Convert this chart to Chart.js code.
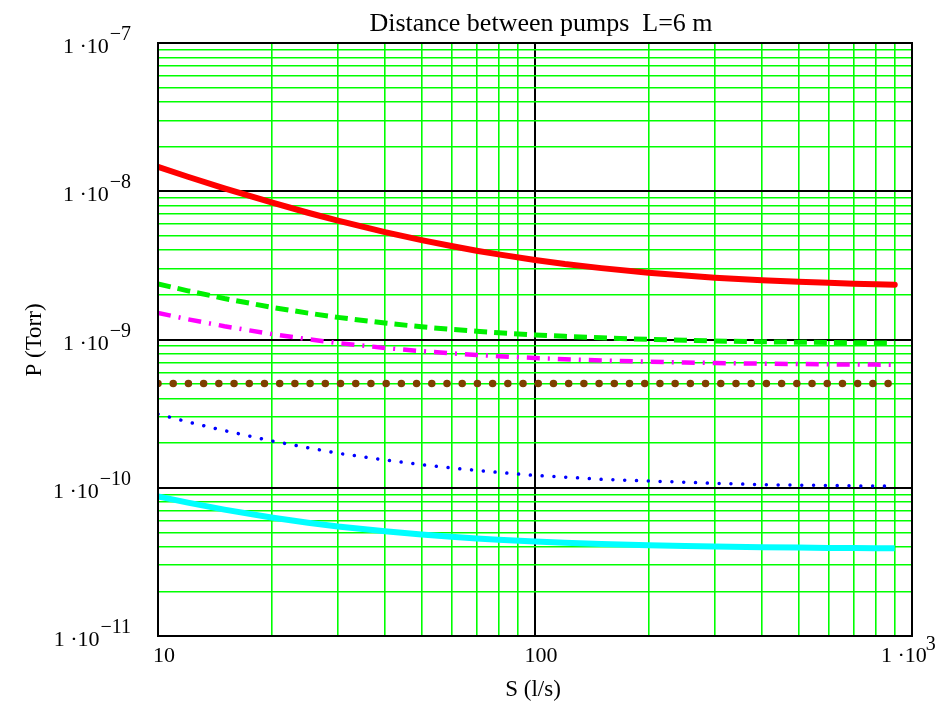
<!DOCTYPE html>
<html>
<head>
<meta charset="utf-8">
<script src="https://cdn.jsdelivr.net/npm/chart.js@4/dist/chart.umd.min.js"></script>
<style>
  html, body { margin: 0; padding: 0; background: #ffffff; }
  #wrap { width: 949px; height: 703px; }
</style>
</head>
<body>
<div id="wrap"><canvas id="c" width="949" height="703"></canvas></div>
<script>
// Pumping speed S (l/s)
const S = [10, 12, 15, 20, 25, 30, 40, 50, 60, 70, 80, 100, 120, 150, 200, 250, 300, 400, 500, 600, 700, 800, 900];

// Pressure P (Torr) for each curve
const pRed = [1.46e-8, 1.253e-8, 1.047e-8, 8.4e-9, 7.16e-9, 6.33e-9, 5.3e-9, 4.68e-9, 4.27e-9, 3.97e-9, 3.75e-9, 3.44e-9, 3.23e-9, 3.03e-9, 2.82e-9, 2.70e-9, 2.61e-9, 2.51e-9, 2.45e-9, 2.41e-9, 2.38e-9, 2.36e-9, 2.34e-9];
const pGreen = [2.37e-9, 2.13e-9, 1.89e-9, 1.65e-9, 1.506e-9, 1.41e-9, 1.29e-9, 1.218e-9, 1.17e-9, 1.136e-9, 1.11e-9, 1.074e-9, 1.05e-9, 1.026e-9, 1.002e-9, 9.88e-10, 9.78e-10, 9.66e-10, 9.59e-10, 9.54e-10, 9.51e-10, 9.48e-10, 9.46e-10];
const pMagenta = [1.51e-9, 1.369e-9, 1.229e-9, 1.088e-9, 1.004e-9, 9.47e-10, 8.77e-10, 8.35e-10, 8.07e-10, 7.87e-10, 7.72e-10, 7.50e-10, 7.36e-10, 7.22e-10, 7.08e-10, 7.00e-10, 6.94e-10, 6.87e-10, 6.83e-10, 6.80e-10, 6.78e-10, 6.77e-10, 6.75e-10];
const pBrown = [5.05e-10, 5.05e-10, 5.05e-10, 5.05e-10, 5.05e-10, 5.05e-10, 5.05e-10, 5.05e-10, 5.05e-10, 5.05e-10, 5.05e-10, 5.05e-10, 5.05e-10, 5.05e-10, 5.05e-10, 5.05e-10, 5.05e-10, 5.05e-10, 5.05e-10, 5.05e-10, 5.05e-10, 5.05e-10, 5.05e-10];
const pBlue = [3.14e-10, 2.78e-10, 2.43e-10, 2.07e-10, 1.86e-10, 1.71e-10, 1.54e-10, 1.43e-10, 1.36e-10, 1.31e-10, 1.27e-10, 1.21e-10, 1.18e-10, 1.14e-10, 1.11e-10, 1.09e-10, 1.07e-10, 1.05e-10, 1.04e-10, 1.036e-10, 1.03e-10, 1.027e-10, 1.024e-10];
const pCyan = [8.75e-11, 7.93e-11, 7.12e-11, 6.30e-11, 5.81e-11, 5.48e-11, 5.08e-11, 4.83e-11, 4.67e-11, 4.55e-11, 4.46e-11, 4.34e-11, 4.26e-11, 4.18e-11, 4.10e-11, 4.05e-11, 4.01e-11, 3.97e-11, 3.95e-11, 3.93e-11, 3.92e-11, 3.91e-11, 3.90e-11];

// Grid positions
const xGrid = [10, 20, 30, 40, 50, 60, 70, 80, 90, 100, 200, 300, 400, 500, 600, 700, 800, 900, 1000];
const yGrid = [1e-11, 2e-11, 3e-11, 4e-11, 5e-11, 6e-11, 7e-11, 8e-11, 9e-11,
               1e-10, 2e-10, 3e-10, 4e-10, 5e-10, 6e-10, 7e-10, 8e-10, 9e-10,
               1e-9, 2e-9, 3e-9, 4e-9, 5e-9, 6e-9, 7e-9, 8e-9, 9e-9,
               1e-8, 2e-8, 3e-8, 4e-8, 5e-8, 6e-8, 7e-8, 8e-8, 9e-8, 1e-7];

// Tick labels: [value, base text, superscript]
const xLabels = [[10, '10', ''], [100, '100', ''], [1000, '1 \u00b710', '3']];
const yLabels = [[1e-7, '1 \u00b710', '\u22127'], [1e-8, '1 \u00b710', '\u22128'], [1e-9, '1 \u00b710', '\u22129'],
                 [1e-10, '1 \u00b710', '\u221210'], [1e-11, '1 \u00b710', '\u221211']];

const titleText = 'Distance between pumps  L=6 m';
const xTitle = 'S (l/s)';
const yTitle = 'P (Torr)';

const pts = arr => S.map((s, i) => ({ x: s, y: arr[i] }));
const isDecade = v => Math.abs(Math.log10(v) - Math.round(Math.log10(v))) < 1e-6;
const SERIF = '"Liberation Serif", "DejaVu Serif", serif';

const textPlugin = {
  id: 'textPlugin',
  afterDraw(chart) {
    const ctx = chart.ctx;
    const xs = chart.scales.x, ys = chart.scales.y;
    const a = chart.chartArea;
    ctx.save();
    // frame round the plot area
    ctx.strokeStyle = '#000';
    ctx.lineWidth = 2;
    ctx.strokeRect(a.left, a.top, a.right - a.left, a.bottom - a.top);

    ctx.fillStyle = '#000';
    ctx.textBaseline = 'alphabetic';

    // y tick labels, right-aligned
    yLabels.forEach(([v, base, sup]) => {
      const py = ys.getPixelForValue(v);
      const right = 131;
      ctx.font = '20px ' + SERIF;
      ctx.textAlign = 'right';
      const sw = ctx.measureText(sup).width;
      ctx.fillText(sup, right, py - 3);
      ctx.font = '22px ' + SERIF;
      ctx.fillText(base, right - sw - 1, py + 10);
    });

    // x tick labels
    xLabels.forEach(([v, base, sup]) => {
      const px = xs.getPixelForValue(v);
      ctx.font = '22px ' + SERIF;
      if (!sup) {
        ctx.textAlign = 'center';
        ctx.fillText(base, px + 6, 662);
      } else {
        ctx.textAlign = 'left';
        const left = px - 31;
        ctx.fillText(base, left, 662);
        const bw = ctx.measureText(base).width;
        ctx.font = '20px ' + SERIF;
        ctx.fillText(sup, left + bw - 1, 650);
      }
    });

    // title
    ctx.font = '26px ' + SERIF;
    ctx.textAlign = 'center';
    ctx.fillText(titleText, 541, 31);

    // axis titles
    ctx.font = '23px ' + SERIF;
    ctx.fillText(xTitle, 533, 696);
    ctx.save();
    ctx.translate(41, 340);
    ctx.rotate(-Math.PI / 2);
    ctx.textAlign = 'center';
    ctx.fillText(yTitle, 0, 0);
    ctx.restore();

    ctx.restore();
  }
};

const gridColor = c => isDecade(c.tick.value) ? '#000000' : '#00ff00';
const gridWidth = c => isDecade(c.tick.value) ? 2 : 1.6;

new Chart(document.getElementById('c'), {
  type: 'line',
  data: {
    datasets: [
      { data: pts(pRed), borderColor: '#ff0000', borderWidth: 6, pointRadius: 0, borderCapStyle: 'round' },
      { data: pts(pGreen), borderColor: '#00f000', borderWidth: 5, pointRadius: 0, borderDash: [13, 7] },
      { data: pts(pMagenta), borderColor: '#ff00ff', borderWidth: 4.5, pointRadius: 0, borderDash: [13, 8, 2, 8] },
      { data: pts(pBrown), borderColor: '#7f3f00', borderWidth: 7.5, pointRadius: 0, borderDash: [0.01, 15.2], borderCapStyle: 'round' },
      { data: pts(pBlue), borderColor: '#0000ff', borderWidth: 3.5, pointRadius: 0, borderDash: [0.01, 11.8], borderCapStyle: 'round' },
      { data: pts(pCyan), borderColor: '#00ffff', borderWidth: 6, pointRadius: 0 }
    ]
  },
  options: {
    responsive: false,
    animation: false,
    events: [],
    layout: { padding: { left: 0, top: 43, right: 37, bottom: 0 } },
    plugins: { legend: { display: false }, tooltip: { enabled: false }, title: { display: false } },
    elements: { line: { tension: 0 } },
    scales: {
      x: {
        type: 'logarithmic', min: 10, max: 1000,
        ticks: { display: false },
        afterBuildTicks: s => { s.ticks = xGrid.map(v => ({ value: v })); },
        afterFit: s => { s.height = 703 - 636; },
        grid: { color: gridColor, lineWidth: gridWidth, drawTicks: false },
        border: { display: true, color: '#000', width: 2 }
      },
      y: {
        type: 'logarithmic', min: 1e-11, max: 1e-7,
        ticks: { display: false },
        afterBuildTicks: s => { s.ticks = yGrid.map(v => ({ value: v })); },
        afterFit: s => { s.width = 158; },
        grid: { color: gridColor, lineWidth: gridWidth, drawTicks: false },
        border: { display: true, color: '#000', width: 2 }
      }
    }
  },
  plugins: [textPlugin]
});
</script>
</body>
</html>
